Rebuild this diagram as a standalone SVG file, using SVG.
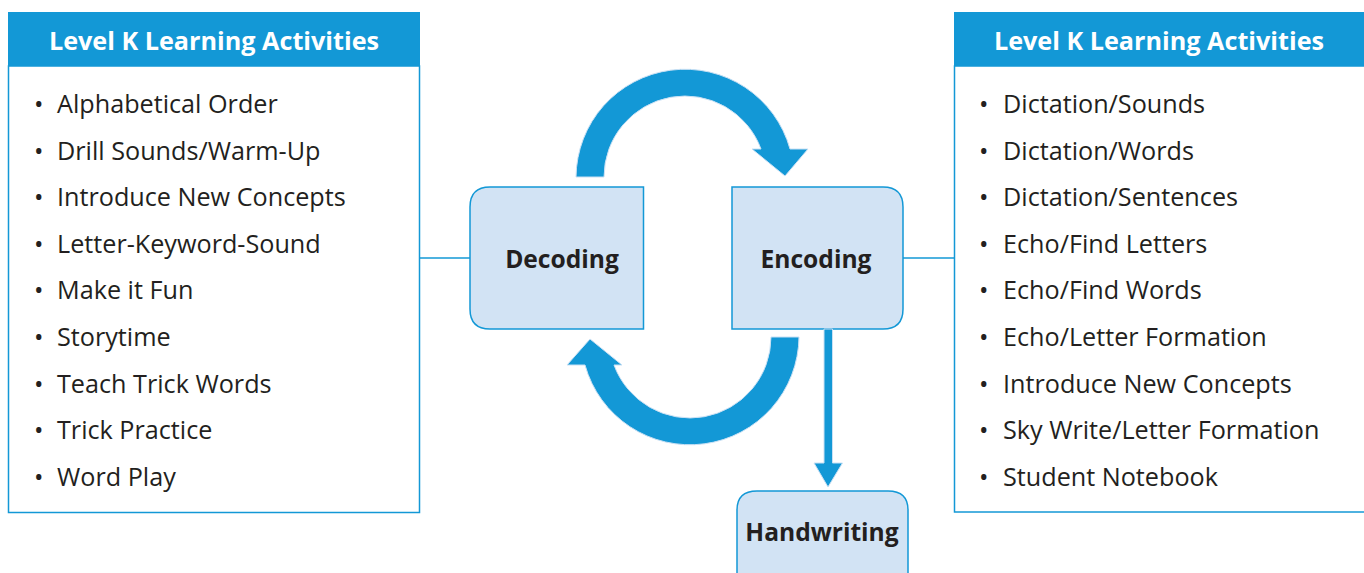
<svg xmlns="http://www.w3.org/2000/svg" width="1364" height="573" viewBox="0 0 1364 573">
<style>
.hdr{fill:#1398D6}
.hdrt{fill:#fff;font-family:"Open Sans",sans-serif;font-weight:700;font-size:25.2px;text-anchor:middle}
.panel{fill:#fff;stroke:#1398D6;stroke-width:1.5}
.item{fill:#231F20;font-family:"Open Sans",sans-serif;font-size:25.2px}
.node{fill:#D2E3F4;stroke:#1398D6;stroke-width:1.5}
.nt{fill:#231F20;font-family:"Open Sans",sans-serif;font-weight:700;font-size:24.6px;text-anchor:middle}
.arr{fill:#1398D6;stroke:#C9E0F4;stroke-width:1}
.ln{stroke:#1398D6;stroke-width:1.5;fill:none}
</style>
<g id="left-panel">
<rect class="panel" x="8.5" y="66" width="411" height="446.5"/>
<rect class="hdr" x="8" y="12" width="412" height="54"/>
<text class="hdrt" x="214" y="50">Level K Learning Activities</text>
<g class="item">
<text x="34" y="113">•</text><text x="57" y="113">Alphabetical Order</text>
<text x="34" y="160">•</text><text x="57" y="160">Drill Sounds/Warm-Up</text>
<text x="34" y="206">•</text><text x="57" y="206">Introduce New Concepts</text>
<text x="34" y="253">•</text><text x="57" y="253">Letter-Keyword-Sound</text>
<text x="34" y="299">•</text><text x="57" y="299">Make it Fun</text>
<text x="34" y="346">•</text><text x="57" y="346">Storytime</text>
<text x="34" y="393">•</text><text x="57" y="393">Teach Trick Words</text>
<text x="34" y="439">•</text><text x="57" y="439">Trick Practice</text>
<text x="34" y="486">•</text><text x="57" y="486">Word Play</text>
</g>
</g>
<g id="right-panel">
<rect class="panel" x="954.5" y="66" width="411" height="446"/>
<rect class="hdr" x="954" y="12" width="412" height="54"/>
<text class="hdrt" x="1159" y="50">Level K Learning Activities</text>
<g class="item">
<text x="979" y="113">•</text><text x="1003" y="113">Dictation/Sounds</text>
<text x="979" y="160">•</text><text x="1003" y="160">Dictation/Words</text>
<text x="979" y="206">•</text><text x="1003" y="206">Dictation/Sentences</text>
<text x="979" y="253">•</text><text x="1003" y="253">Echo/Find Letters</text>
<text x="979" y="299">•</text><text x="1003" y="299">Echo/Find Words</text>
<text x="979" y="346">•</text><text x="1003" y="346">Echo/Letter Formation</text>
<text x="979" y="393">•</text><text x="1003" y="393">Introduce New Concepts</text>
<text x="979" y="439">•</text><text x="1003" y="439">Sky Write/Letter Formation</text>
<text x="979" y="486">•</text><text x="1003" y="486">Student Notebook</text>
</g>
</g>
<g id="decoding">
<path class="node" d="M643.5 187 V329 H490 Q470 329 470 309 V207 Q470 187 490 187 Z"/>
<text class="nt" x="562" y="268">Decoding</text>
</g>
<g id="encoding">
<path class="node" d="M732 187 H883 Q903 187 903 207 V309 Q903 329 883 329 H732 Z"/>
<text class="nt" x="816" y="268">Encoding</text>
</g>
<g id="handwriting">
<path class="node" d="M737 580 V510 Q737 491 757 491 H888 Q908 491 908 510 V580 Z"/>
<text class="nt" x="822" y="541">Handwriting</text>
</g>
<g id="connectors">
<line class="ln" x1="419" y1="258" x2="470" y2="258"/>
<line class="ln" x1="903" y1="258" x2="954" y2="258"/>
<path class="arr" d="M576 177 A109 109 0 0 1 790 149 L808 149 L785 176 L752 149 L761 149 A81 81 0 0 0 604 177 Z"/>
<path class="arr" d="M799 337 A109 109 0 0 1 585 365 L567 365 L590 339 L622 365 L614 365 A81 81 0 0 0 771 337 Z"/>
<path class="arr" d="M824 329 H832.5 V463 H842.5 L828 487 L814 463 H824 Z"/>
</g>
</svg>
